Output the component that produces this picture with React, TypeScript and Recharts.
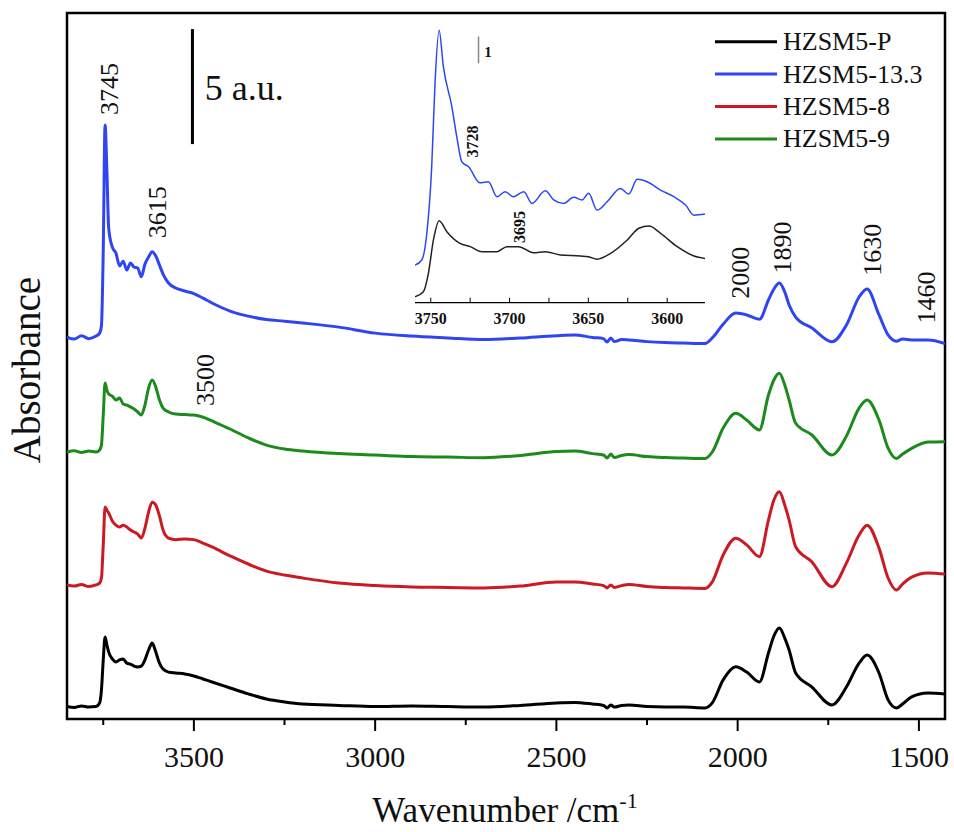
import React from 'react';
import { LineChart, Line, XAxis, YAxis, ReferenceArea, ReferenceLine, ReferenceDot, Legend } from 'recharts';

const FONT = '"Liberation Serif", "Times New Roman", serif';

// wavenumber grid (cm-1), high to low
const WAVENUMBERS = [
  3850, 3830, 3810, 3790, 3770, 3760, 3755, 3750, 3745, 3740,
  3735, 3725, 3715, 3705, 3695, 3685, 3675, 3665, 3655, 3645,
  3635, 3625, 3615, 3605, 3595, 3585, 3570, 3550, 3525, 3500,
  3475, 3450, 3400, 3350, 3300, 3250, 3200, 3100, 3000, 2900,
  2800, 2700, 2600, 2500, 2450, 2400, 2370, 2360, 2350, 2340,
  2320, 2300, 2250, 2200, 2150, 2090, 2070, 2040, 2005, 1975,
  1940, 1915, 1900, 1885, 1870, 1858, 1840, 1795, 1740, 1700,
  1665, 1643, 1610, 1585, 1562, 1545, 1520, 1475, 1428,
];

// absorbance (a.u.), curves stacked with offsets
const HZSM5_P = [
  0.54, 0.50, 0.57, 0.52, 0.54, 0.70, 1.26, 2.57, 3.57, 3.22,
  2.91, 2.61, 2.48, 2.57, 2.61, 2.43, 2.39, 2.30, 2.26, 2.30,
  2.57, 3.00, 3.30, 2.91, 2.43, 2.17, 2.04, 2.00, 1.96, 1.87,
  1.74, 1.61, 1.35, 1.09, 0.87, 0.74, 0.65, 0.59, 0.54, 0.57,
  0.54, 0.52, 0.59, 0.70, 0.72, 0.65, 0.59, 0.48, 0.61, 0.52,
  0.59, 0.61, 0.54, 0.52, 0.52, 0.48, 0.70, 1.70, 2.27, 2.04,
  1.61, 2.87, 3.61, 3.96, 3.52, 3.00, 2.00, 1.39, 0.61, 1.39,
  2.43, 2.78, 2.00, 0.83, 0.48, 0.65, 0.96, 1.13, 1.09,
];

const HZSM5_8 = [
  5.83, 5.78, 5.85, 5.76, 5.83, 5.91, 6.13, 7.57, 9.22, 9.09,
  8.96, 8.61, 8.43, 8.35, 8.43, 8.35, 8.22, 8.13, 8.04, 7.87,
  8.30, 9.00, 9.43, 9.30, 8.83, 8.22, 7.87, 7.80, 7.83, 7.80,
  7.65, 7.48, 7.09, 6.74, 6.43, 6.26, 6.13, 5.91, 5.80, 5.74,
  5.72, 5.70, 5.78, 5.96, 5.96, 5.87, 5.80, 5.70, 5.83, 5.72,
  5.80, 5.85, 5.76, 5.72, 5.70, 5.68, 5.96, 7.13, 7.86, 7.57,
  7.06, 8.65, 9.52, 9.88, 9.30, 8.65, 7.49, 6.83, 5.75, 6.78,
  8.00, 8.43, 7.43, 6.13, 5.61, 5.87, 6.17, 6.35, 6.30,
];

const HZSM5_9 = [
  11.61, 11.67, 11.59, 11.65, 11.61, 11.70, 11.91, 13.22, 14.61, 14.30,
  14.13, 14.04, 13.87, 13.96, 13.70, 13.65, 13.57, 13.48, 13.35, 13.22,
  13.65, 14.39, 14.74, 14.43, 13.87, 13.52, 13.35, 13.26, 13.24, 13.22,
  13.13, 12.96, 12.61, 12.22, 11.91, 11.74, 11.65, 11.54, 11.48, 11.41,
  11.39, 11.36, 11.46, 11.63, 11.65, 11.54, 11.48, 11.35, 11.52, 11.37,
  11.46, 11.50, 11.41, 11.37, 11.35, 11.33, 11.61, 12.65, 13.29, 13.00,
  12.57, 14.09, 14.74, 15.03, 14.52, 13.87, 12.86, 12.35, 11.48, 12.30,
  13.52, 13.87, 13.00, 11.78, 11.33, 11.52, 11.77, 12.04, 12.06,
];

const HZSM5_13_3 = [
  16.61, 16.52, 16.67, 16.54, 16.65, 16.78, 17.09, 20.39, 25.83, 23.87,
  21.35, 20.52, 20.26, 19.70, 19.91, 19.52, 19.83, 19.65, 19.61, 19.23,
  19.78, 20.09, 20.32, 20.13, 19.74, 19.35, 18.96, 18.74, 18.61, 18.50,
  18.30, 18.09, 17.74, 17.52, 17.37, 17.30, 17.22, 17.04, 16.78, 16.65,
  16.57, 16.50, 16.57, 16.67, 16.70, 16.59, 16.54, 16.39, 16.57, 16.41,
  16.50, 16.48, 16.41, 16.37, 16.35, 16.33, 16.57, 17.17, 17.65, 17.57,
  17.38, 18.22, 18.70, 18.96, 18.57, 18.00, 17.48, 17.00, 16.40, 17.13,
  18.35, 18.70, 17.57, 16.70, 16.43, 16.52, 16.48, 16.48, 16.33,
];

// zoomed OH region
const INSET_13_3_WAVE = [
  3760, 3755.7, 3752.5, 3749.4, 3747.3, 3744.7, 3742, 3736.6, 3733.5, 3730.3,
  3726, 3718.7, 3713.4, 3708, 3702.8, 3697.5, 3691, 3685.8, 3677.3, 3672,
  3665.7, 3659.3, 3654, 3649.8, 3644.5, 3638.1, 3629.7, 3624.4, 3619, 3612.7,
  3604.2, 3595.8, 3588.3, 3583, 3576,
];
const INSET_13_3_ABS = [
  1.41, 1.60, 2.60, 5.09, 8.22, 10.21, 8.84, 7.34, 6.22, 5.28,
  5.09, 4.49, 4.53, 3.97, 4.16, 3.97, 4.16, 3.72, 4.19, 3.85,
  3.72, 3.95, 3.85, 4.10, 3.47, 3.78, 4.28, 4.07, 4.62, 4.53,
  4.22, 3.97, 3.66, 3.28, 3.32,
];
const INSET_P_WAVE = [
  3760, 3754.7, 3751.5, 3748.3, 3744.7, 3739.8, 3731.4, 3725, 3717.6, 3708,
  3701.7, 3694.3, 3684.8, 3677.3, 3667.8, 3655, 3649.8, 3644.5, 3635.9, 3625.3,
  3617.9, 3611.5, 3604.2, 3593.6, 3583, 3576,
];
const INSET_P_ABS = [
  0.22, 0.41, 1.10, 2.35, 3.07, 2.66, 2.22, 2.10, 1.91, 1.91,
  2.10, 2.10, 1.87, 1.91, 1.79, 1.75, 1.72, 1.63, 1.85, 2.35,
  2.79, 2.87, 2.60, 2.10, 1.75, 1.66,
];

const X_TICKS = [3750, 3500, 3250, 3000, 2750, 2500, 2250, 2000, 1750, 1500];
const INSET_TICKS = [3750, 3725, 3700, 3675, 3650, 3625, 3600];

const PEAK_LABELS = [
  { text: '3745', w: 3733, v: 27.4 },
  { text: '3615', w: 3599, v: 22.04 },
  { text: '3500', w: 3468, v: 14.74 },
  { text: '2000', w: 1993, v: 19.41 },
  { text: '1890', w: 1875, v: 20.5 },
  { text: '1630', w: 1627, v: 20.4 },
  { text: '1460', w: 1480, v: 18.33 },
];
const INSET_LABELS = [
  { text: '3728', w: 3723.4, v: 6.04 },
  { text: '3695', w: 3693.9, v: 2.84 },
];

const SERIES = [
  { key: 'p', name: 'HZSM5-P', color: '#000000', values: HZSM5_P },
  { key: 's133', name: 'HZSM5-13.3', color: '#2f45f2', values: HZSM5_13_3 },
  { key: 's8', name: 'HZSM5-8', color: '#cc1a22', values: HZSM5_8 },
  { key: 's9', name: 'HZSM5-9', color: '#1c8a1c', values: HZSM5_9 },
];

const mainData = WAVENUMBERS.map((w, i) => {
  const row: Record<string, number> = { w };
  SERIES.forEach((s) => { row[s.key] = s.values[i]; });
  return row;
});
const insetBlue = INSET_13_3_WAVE.map((w, i) => ({ w, v: INSET_13_3_ABS[i] }));
const insetBlack = INSET_P_WAVE.map((w, i) => ({ w, v: INSET_P_ABS[i] }));

const PLOT_BOTTOM = 719;
const INSET_BOTTOM = 302.7;

const MainTick = ({ x, payload }: any) => {
  const major = payload.value % 500 === 0;
  return (
    <g>
      <line x1={x} x2={x} y1={PLOT_BOTTOM} y2={PLOT_BOTTOM + (major ? 12 : 6)} stroke="#000" strokeWidth={2} />
      {major && (
        <text x={x} y={767} textAnchor="middle" fontSize={30} fontFamily={FONT} fill="#111">
          {payload.value}
        </text>
      )}
    </g>
  );
};

const InsetTick = ({ x, payload }: any) => {
  const major = payload.value % 50 === 0;
  return (
    <g>
      <line x1={x} x2={x} y1={INSET_BOTTOM} y2={INSET_BOTTOM - 5} stroke="#000" strokeWidth={1} />
      {major && (
        <text x={x} y={324} textAnchor="middle" fontSize={16} fontWeight="bold" fontFamily={FONT} fill="#111">
          {payload.value}
        </text>
      )}
    </g>
  );
};

const rotatedText = (text: string, size: number, bold = false) => (p: any) => (
  <text
    x={p.cx}
    y={p.cy}
    transform={`rotate(-90 ${p.cx} ${p.cy})`}
    textAnchor="middle"
    dominantBaseline="central"
    fontSize={size}
    fontWeight={bold ? 'bold' : 'normal'}
    fontFamily={FONT}
    fill="#111"
  >
    {text}
  </text>
);

const plainText = (text: string, size: number, bold = false) => (p: any) => (
  <text x={p.cx} y={p.cy} dominantBaseline="central" fontSize={size} fontWeight={bold ? 'bold' : 'normal'} fontFamily={FONT} fill="#111">
    {text}
  </text>
);

const renderLegend = () => (
  <svg width={250} height={140}>
    {SERIES.map((s, i) => {
      const cy = 21.7 + i * 32.4;
      return (
        <g key={s.key}>
          <line x1={15} x2={77} y1={cy} y2={cy} stroke={s.color} strokeWidth={3} />
          <text x={83} y={cy + 8.5} fontSize={26} fontFamily={FONT} fill="#111">{s.name}</text>
        </g>
      );
    })}
  </svg>
);

export default function App() {
  return (
    <div style={{ position: 'absolute', left: 0, top: 0, width: 954, height: 832, background: '#fff', fontFamily: FONT }}>
      <LineChart width={954} height={832} data={mainData} margin={{ top: 13, right: 9, bottom: 53, left: 67 }}>
        <XAxis
          dataKey="w"
          type="number"
          domain={[1428, 3850]}
          reversed
          allowDataOverflow
          ticks={X_TICKS}
          interval={0}
          tick={<MainTick />}
          tickLine={false}
          axisLine={false}
          height={60}
        />
        <YAxis hide type="number" domain={[0, 30.7]} allowDataOverflow />
        {SERIES.map((s) => (
          <Line
            key={s.key}
            dataKey={s.key}
            name={s.name}
            stroke={s.color}
            strokeWidth={3}
            type="monotone"
            dot={false}
            activeDot={false}
            isAnimationActive={false}
          />
        ))}
        <ReferenceArea x1={3850} x2={1428} y1={0} y2={30.7} fill="none" stroke="#000" strokeWidth={2.5} ifOverflow="visible" />
        <ReferenceLine segment={[{ x: 3504, y: 25 }, { x: 3504, y: 30 }]} stroke="#000" strokeWidth={3} />
        <ReferenceDot x={3470} y={27.43} r={0} shape={plainText('5 a.u.', 36)} />
        {PEAK_LABELS.map((l) => (
          <ReferenceDot key={l.text} x={l.w} y={l.v} r={0} shape={rotatedText(l.text, 26)} />
        ))}
        <Legend layout="vertical" align="center" verticalAlign="middle" content={renderLegend} wrapperStyle={{ left: 700, top: 20, width: 250 }} />
        <text x={505} y={822} textAnchor="middle" fontSize={35} fontFamily={FONT} fill="#111">
          Wavenumber /cm<tspan dy={-14} fontSize={22}>-1</tspan>
        </text>
        <text x={26} y={370} transform="rotate(-90 26 370)" textAnchor="middle" dominantBaseline="central" fontSize={39} fontFamily={FONT} fill="#111">
          Absorbance
        </text>
      </LineChart>

      <div style={{ position: 'absolute', left: 400, top: 0 }}>
        <LineChart width={320} height={340} margin={{ top: 20, right: 15, bottom: 12.3, left: 15 }}>
          <XAxis
            dataKey="w"
            type="number"
            domain={[3576, 3760]}
            reversed
            allowDataOverflow
            ticks={INSET_TICKS}
            interval={0}
            tick={<InsetTick />}
            tickLine={false}
            axisLine={{ stroke: '#000', strokeWidth: 1.2 }}
            height={25}
          />
          <YAxis hide type="number" domain={[0, 10.59]} allowDataOverflow />
          <Line data={insetBlue} dataKey="v" stroke="#2f45f2" strokeWidth={1.5} type="monotone" dot={false} activeDot={false} isAnimationActive={false} />
          <Line data={insetBlack} dataKey="v" stroke="#222" strokeWidth={1.5} type="monotone" dot={false} activeDot={false} isAnimationActive={false} />
          <ReferenceLine segment={[{ x: 3719.7, y: 8.97 }, { x: 3719.7, y: 9.97 }]} stroke="#888" strokeWidth={1.5} />
          <ReferenceDot x={3716} y={9.39} r={0} shape={plainText('1', 15, true)} />
          {INSET_LABELS.map((l) => (
            <ReferenceDot key={l.text} x={l.w} y={l.v} r={0} shape={rotatedText(l.text, 16, true)} />
          ))}
        </LineChart>
      </div>
    </div>
  );
}
